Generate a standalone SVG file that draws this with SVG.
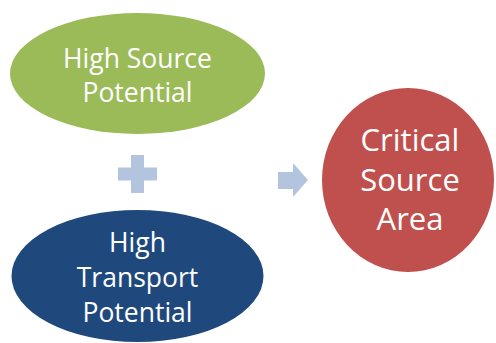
<svg xmlns="http://www.w3.org/2000/svg" width="496" height="343" viewBox="0 0 496 343">
  <style>
    .lbl { font-family: "Open Sans", "Liberation Sans", sans-serif; fill: #ffffff; text-anchor: middle; }
    .sm { font-size: 26.5px; }
    .lg { font-size: 31px; }
    .op { fill: #B3C4DE; }
  </style>
  <rect width="496" height="343" fill="#ffffff"/>
  <g id="node-source">
    <ellipse cx="137.5" cy="73.5" rx="127.5" ry="60.5" fill="#9BBB59"/>
    <text class="lbl sm" x="137.5" y="68">High Source</text>
    <text class="lbl sm" x="137.5" y="102">Potential</text>
  </g>
  <g id="node-transport">
    <ellipse cx="137.5" cy="276" rx="126" ry="66" fill="#1F497D"/>
    <text class="lbl sm" x="137.5" y="252">High</text>
    <text class="lbl sm" x="137.5" y="287">Transport</text>
    <text class="lbl sm" x="137.5" y="322">Potential</text>
  </g>
  <g id="node-critical">
    <ellipse cx="408" cy="180" rx="86" ry="92" fill="#C0504D"/>
    <text class="lbl lg" x="410" y="151">Critical</text>
    <text class="lbl lg" x="410" y="191">Source</text>
    <text class="lbl lg" x="410" y="230">Area</text>
  </g>
  <g id="connectors">
    <path class="op" d="M131,155 H144 V167.5 H157 V180.5 H144 V193 H131 V180.5 H118 V167.5 H131 Z"/>
    <path class="op" d="M278,172 H293 V163 L308,180 L293,197 V189 H278 Z"/>
  </g>
</svg>
